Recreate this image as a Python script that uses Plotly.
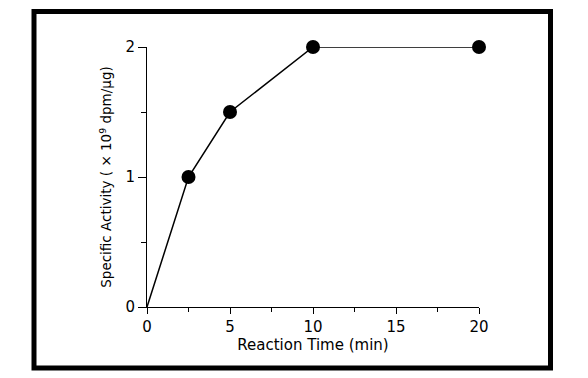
import plotly.graph_objects as go

time_min = [0, 2.5, 5, 10, 20]
activity = [0, 1.0, 1.5, 2.0, 2.0]
marker_sizes = [0, 14, 14, 14, 14]

x_ticks = [0, 5, 10, 15, 20]
y_ticks = [0, 1, 2]

FONT = "DejaVu Sans, Liberation Sans, Arial, sans-serif"

# page body has an 8px margin, so the figure is 8px smaller and margins shifted
W, H = 580, 370
L, T, R, B = 139, 39, 109, 71
PW = W - L - R   # 332
PH = H - T - B   # 260

fig = go.Figure()
fig.add_trace(go.Scatter(
    x=time_min, y=activity, mode="lines+markers",
    line=dict(color="black", width=1.5),
    marker=dict(color="black", size=marker_sizes, symbol="circle", opacity=1,
                line=dict(width=0)),
    cliponaxis=False, showlegend=False,
))

fig.update_layout(
    width=W, height=H,
    margin=dict(l=L, r=R, t=T, b=B),
    paper_bgcolor="white", plot_bgcolor="white",
    font=dict(family=FONT, color="black", size=15),
    xaxis=dict(
        range=[0, 20], tickvals=x_ticks, ticktext=[str(v) for v in x_ticks],
        showline=True, linecolor="black", linewidth=1,
        ticks="outside", ticklen=6, tickwidth=1, tickcolor="black",
        minor=dict(ticks="outside", ticklen=4, tickwidth=1, tickcolor="black", dtick=2.5, tick0=0),
        showgrid=False, zeroline=False,
        tickfont=dict(size=15, color="black"),
        title=dict(text="Reaction Time (min)", font=dict(size=15, color="black"), standoff=3),
    ),
    yaxis=dict(
        range=[0, 2], tickvals=y_ticks, ticktext=[str(v) for v in y_ticks],
        showline=True, linecolor="black", linewidth=1,
        ticks="outside", ticklen=8, tickwidth=1, tickcolor="black",
        minor=dict(ticks="outside", ticklen=5, tickwidth=1, tickcolor="black", dtick=0.5, tick0=0),
        showgrid=False, zeroline=False,
        tickfont=dict(size=15, color="black"),
        title=dict(text="Specific Activity ( × 10<sup>9</sup> dpm/μg)",
                   font=dict(size=13.5, color="black"), standoff=10),
    ),
    shapes=[dict(
        type="rect", xref="paper", yref="paper",
        x0=(34 - 147) / PW, x1=(550.5 - 147) / PW,
        y0=(307 - 368) / PH, y1=(307 - 11.5) / PH,
        line=dict(color="black", width=5), fillcolor="rgba(0,0,0,0)",
        layer="above",
    )],
)

fig.write_html("out.html")
